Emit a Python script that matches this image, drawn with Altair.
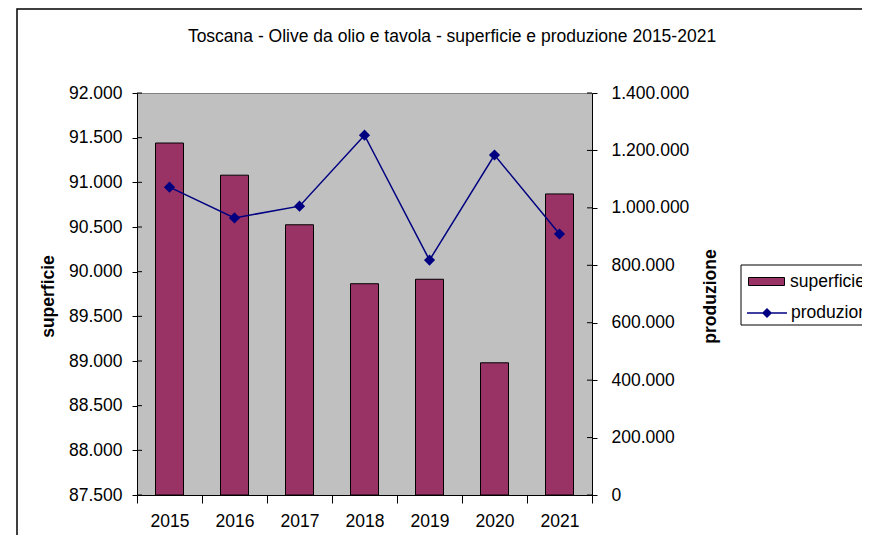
import altair as alt
import pandas as pd

years = ["2015", "2016", "2017", "2018", "2019", "2020", "2021"]
superficie = [91440, 91080, 90525, 89865, 89915, 88980, 90870]
produzione = [1072000, 965000, 1006000, 1253000, 818000, 1184000, 909000]
left_ticks = [87500, 88000, 88500, 89000, 89500, 90000, 90500, 91000, 91500, 92000]
right_ticks = [0, 200000, 400000, 600000, 800000, 1000000, 1200000, 1400000]

df = pd.DataFrame({"anno": years, "superficie": superficie, "produzione": produzione})
lt = pd.DataFrame({"v": left_ticks})
rt = pd.DataFrame({"v": right_ticks})

W, H = 455, 402
FS = 17.5
lab_expr = "replace(format(datum.value, ','), /,/g, '.')"
ydom_l = [87500, 92000]
ydom_r = [0, 1400000]

x_enc = alt.X("anno:N", sort=years, title=None,
              scale=alt.Scale(paddingInner=0, paddingOuter=0),
              axis=alt.Axis(labelAngle=0, tickBand="extent", tickSize=8, labelPadding=9,
                            labelFontSize=FS, domainColor="black", tickColor="black"))

one = pd.DataFrame({"a": [0]})
frame = alt.Chart(one).mark_rect(
    filled=False, stroke="black", strokeWidth=1.5
).encode(x=alt.value(-120), x2=alt.value(W + 400), y=alt.value(-84), y2=alt.value(H + 200))

legbox = alt.Chart(one).mark_rect(
    fill="white", stroke="black", strokeWidth=1
).encode(x=alt.value(604), x2=alt.value(W + 400), y=alt.value(172), y2=alt.value(232))

leg_common = dict(title=None, orient="none", padding=0, labelFontSize=FS, labelOffset=3,
                  symbolSize=1600, labelColor="black", symbolOpacity=1)

bars = alt.Chart(df).transform_calculate(s1="'superficie'").mark_bar(
    size=28, stroke="black", strokeWidth=1
).encode(
    x=x_enc,
    y=alt.Y("superficie:Q", scale=alt.Scale(domain=ydom_l, zero=False, nice=False),
            axis=alt.Axis(orient="left", values=left_ticks, labelExpr=lab_expr, title="superficie",
                          tickSize=5, labelPadding=10, labelFontSize=FS, titleFontSize=FS,
                          titleFontWeight="bold", titleAngle=270, titleX=-89, titleY=203,
                          titleBaseline="middle", titleAlign="center",
                          domainColor="black", tickColor="black")),
    y2=alt.datum(87500),
    fill=alt.Fill("s1:N",
                  scale=alt.Scale(domain=["superficie"], range=["#993366"]),
                  legend=alt.Legend(legendX=609, legendY=168,
                                    symbolType="M-0.9,-0.2H0.9V0.2H-0.9Z",
                                    symbolStrokeColor="black", symbolStrokeWidth=1,
                                    **leg_common)),
)

lticks = alt.Chart(lt).mark_rule(color="black").encode(
    y=alt.Y("v:Q", scale=alt.Scale(domain=ydom_l, zero=False, nice=False), axis=None),
    x=alt.value(0), x2=alt.value(5),
)

line = alt.Chart(df).transform_calculate(s2="'produzione'").mark_line(
    strokeWidth=1.5,
    point=alt.OverlayMarkDef(shape="diamond", size=70, filled=True, fill="#000080"),
).encode(
    x=alt.X("anno:N", sort=years),
    y=alt.Y("produzione:Q", scale=alt.Scale(domain=ydom_r, nice=False),
            axis=alt.Axis(orient="right", values=right_ticks, labelExpr=lab_expr, title="produzione",
                          tickSize=5, labelPadding=14, labelFontSize=FS, titleFontSize=FS,
                          titleFontWeight="bold", titleAngle=270, titleX=118, titleY=203,
                          titleBaseline="middle", titleAlign="center",
                          domainColor="black", tickColor="black")),
    stroke=alt.Stroke("s2:N",
                      scale=alt.Scale(domain=["produzione"], range=["#000080"]),
                      legend=alt.Legend(legendX=609, legendY=199,
                                        symbolType="M-1,0H1M-0.2,0L0,-0.2L0.2,0L0,0.2Z",
                                        symbolFillColor="#000080", symbolStrokeWidth=1.5,
                                        **leg_common)),
)

rticks = alt.Chart(rt).mark_rule(color="black").encode(
    y=alt.Y("v:Q", scale=alt.Scale(domain=ydom_r, nice=False), axis=None),
    x=alt.value(W - 5), x2=alt.value(W),
)

chart = alt.layer(frame, legbox, bars, lticks, line, rticks).resolve_scale(
    y="independent"
).properties(
    width=W, height=H,
    title=alt.TitleParams(
        "Toscana - Olive da olio e tavola - superficie e produzione 2015-2021",
        fontSize=FS, fontWeight="normal", anchor="middle", dx=87.5, dy=37, offset=0,
        color="black",
    ),
    autosize=alt.AutoSizeParams(type="none"),
    padding={"left": 129, "top": 85, "right": 270, "bottom": 40},
).configure(
    font="Liberation Sans",
).configure_view(
    fill="#C0C0C0", stroke="#808080",
).configure_axis(
    grid=False, labelColor="black", titleColor="black",
)

chart.save("out.html", embed_options={"renderer": "svg", "actions": False})
